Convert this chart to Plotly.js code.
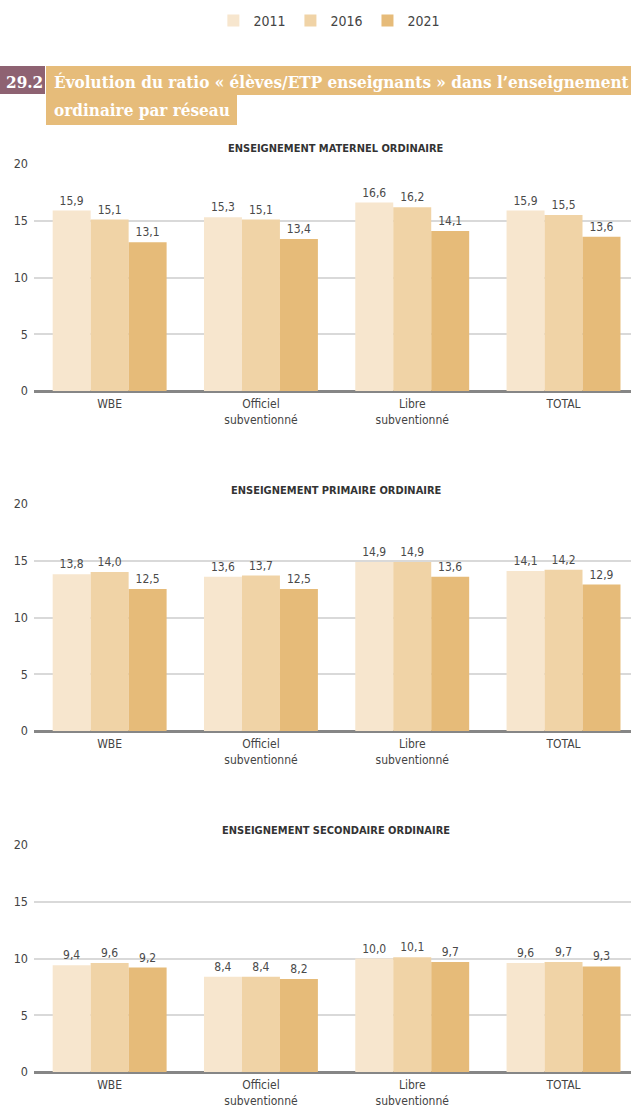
<!DOCTYPE html>
<html>
<head>
<meta charset="utf-8">
<script src="https://cdn.plot.ly/plotly-3.0.1.min.js"></script>
<style>
html,body{margin:0;padding:0;background:#fff;}
#chart{width:631px;height:1107px;}
</style>
</head>
<body>
<div id="chart"></div>
<script>
var categories = ["WBE", "Officiel<br>subventionné", "Libre<br>subventionné", "TOTAL"];
var years = ["2011", "2016", "2021"];
var panelTitles = ["ENSEIGNEMENT MATERNEL ORDINAIRE", "ENSEIGNEMENT PRIMAIRE ORDINAIRE", "ENSEIGNEMENT SECONDAIRE ORDINAIRE"];

// Maternel
var maternel2011 = [15.9, 15.3, 16.6, 15.9];
var maternel2016 = [15.1, 15.1, 16.2, 15.5];
var maternel2021 = [13.1, 13.4, 14.1, 13.6];
// Primaire
var primaire2011 = [13.8, 13.6, 14.9, 14.1];
var primaire2016 = [14.0, 13.7, 14.9, 14.2];
var primaire2021 = [12.5, 12.5, 13.6, 12.9];
// Secondaire
var secondaire2011 = [9.4, 8.4, 10.0, 9.6];
var secondaire2016 = [9.6, 8.4, 10.1, 9.7];
var secondaire2021 = [9.2, 8.2, 9.7, 9.3];

var yTicks = [0, 5, 10, 15, 20];

var panels = [
  [maternel2011, maternel2016, maternel2021],
  [primaire2011, primaire2016, primaire2021],
  [secondaire2011, secondaire2016, secondaire2021]
];
var colors = ["#F7E6CE", "#F0D3A6", "#E6BB79"];

var FONT = "'DejaVu Sans Condensed', 'DejaVu Sans', sans-serif";
var W = 631, H = 1107;
function py(p){ return 1 - p / H; }
function px(p){ return p / W; }

var traces = [];
panels.forEach(function(series, pi){
  series.forEach(function(vals, si){
    traces.push({
      type: "bar",
      name: years[si],
      x: categories,
      y: vals,
      text: vals.map(function(v){ return v.toFixed(1).replace(".", ","); }),
      textposition: "outside",
      constraintext: "none",
      cliponaxis: false,
      textfont: {family: FONT, size: 12, color: "#4a4a4a"},
      marker: {color: colors[si], line: {width: 0}},
      xaxis: pi === 0 ? "x" : "x" + (pi + 1),
      yaxis: pi === 0 ? "y" : "y" + (pi + 1),
      legendgroup: years[si],
      showlegend: pi === 0,
      hoverinfo: "skip"
    });
  });
});

// pixel positions of plot areas (top, bottom)
var plotPix = [[164, 391], [504, 731], [845, 1072]];
var titlePix = [148, 490, 830];

var layout = {
  width: W, height: H,
  margin: {l: 0, r: 0, t: 0, b: 0},
  paper_bgcolor: "#fff",
  plot_bgcolor: "rgba(0,0,0,0)",
  barmode: "group",
  bargap: 0.247,
  bargroupgap: 0,
  showlegend: true,
  legend: {
    orientation: "h",
    x: 0.522, xanchor: "center",
    y: py(5), yanchor: "top",
    font: {family: FONT, size: 14, color: "#444"},
    traceorder: "normal"
  },
  font: {family: FONT, color: "#444"},
  shapes: [],
  annotations: []
};

plotPix.forEach(function(pp, i){
  var sx = i === 0 ? "" : String(i + 1);
  layout["xaxis" + sx] = {
    domain: [px(34), 1],
    range: [-0.5, 3.446],
    anchor: "y" + sx,
    showgrid: false,
    zeroline: false,
    showline: false,
    ticks: "",
    ticklabelstandoff: 4,
    tickfont: {family: FONT, size: 12, color: "#444"},
    fixedrange: true,
    automargin: false
  };
  layout["yaxis" + sx] = {
    domain: [py(pp[1]), py(pp[0])],
    range: [0, 20],
    anchor: "x" + sx,
    tickvals: yTicks,
    ticktext: yTicks.map(String),
    showgrid: true,
    gridcolor: "#d9d9d9",
    gridwidth: 2,
    zeroline: true,
    zerolinecolor: "#868686",
    zerolinewidth: 3,
    showline: false,
    ticks: "",
    ticklabelstandoff: 5,
    tickfont: {family: FONT, size: 12.5, color: "#444"},
    fixedrange: true,
    automargin: false
  };
  layout.annotations.push({
    xref: "paper", yref: "paper",
    x: 0.5325, y: py(titlePix[i]),
    xanchor: "center", yanchor: "middle",
    text: "<b>" + panelTitles[i] + "</b>",
    showarrow: false,
    font: {family: FONT, size: 11, color: "#333"}
  });
});

// header boxes
var HFONT = "'DejaVu Serif Condensed', 'DejaVu Serif', serif";
layout.shapes.push(
  {type: "rect", xref: "paper", yref: "paper", x0: 0, x1: px(45), y0: py(94), y1: py(66), fillcolor: "#8E6272", line: {width: 0}, layer: "below"},
  {type: "rect", xref: "paper", yref: "paper", x0: px(46), x1: 1, y0: py(95), y1: py(66), fillcolor: "#E6BC7A", line: {width: 0}, layer: "below"},
  {type: "rect", xref: "paper", yref: "paper", x0: px(46), x1: px(237), y0: py(125), y1: py(94), fillcolor: "#E6BC7A", line: {width: 0}, layer: "below"}
);
layout.annotations.push(
  {xref: "paper", yref: "paper", x: px(4), y: py(82), xanchor: "left", yanchor: "middle",
   text: "<b>29.2</b>", showarrow: false, font: {family: HFONT, size: 17, color: "#fff"}},
  {xref: "paper", yref: "paper", x: px(52), y: py(82), xanchor: "left", yanchor: "middle",
   text: "<b>Évolution du ratio « élèves/ETP enseignants » dans l’enseignement</b>", showarrow: false,
   font: {family: HFONT, size: 17, color: "#fff"}},
  {xref: "paper", yref: "paper", x: px(52), y: py(110), xanchor: "left", yanchor: "middle",
   text: "<b>ordinaire par réseau</b>", showarrow: false, font: {family: HFONT, size: 17, color: "#fff"}}
);

Plotly.newPlot("chart", traces, layout, {displayModeBar: false, staticPlot: true});
</script>
</body>
</html>
